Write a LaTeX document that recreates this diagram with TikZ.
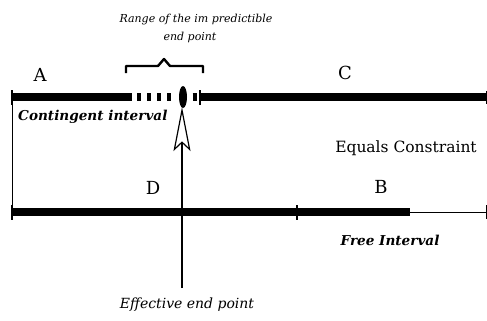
\documentclass[tikz,border=0pt]{standalone}
\usepackage{fontspec}
\setmainfont{DejaVu Serif}
\usetikzlibrary{arrows.meta,shapes.geometric}
\begin{document}
\begin{tikzpicture}[x=1pt,y=-1pt,
  bar/.style={line width=8pt},
  thin/.style={line width=0.9pt},
  tick/.style={line width=2.5pt},
  letter/.style={font=\fontsize{18}{20}\selectfont, inner sep=0pt},
  ital/.style={font=\fontsize{11}{13}\selectfont\itshape, inner sep=0pt},
  bital/.style={font=\fontsize{13.6}{15}\selectfont\bfseries\itshape, inner sep=0pt}]
\useasboundingbox (0,0) rectangle (487,321);
% top interval
\coordinate (tl) at (12,97);
\coordinate (ts) at (132,97);
\coordinate (tr) at (486,97);
\coordinate (tk) at (200,97);
\draw[bar] (tl) -- (ts);
\foreach \x in {137,147,157,167,192.5}
  \draw[bar] (\x,97) -- ++(4,0);
\draw[bar] (tk) -- (tr);
\draw[tick] (12,90) -- (12,105);
\draw[tick] (200,90) -- (200,105);
\draw[thin] (486,91) -- (486,104);
\node[fill=black, ellipse, minimum width=8pt, minimum height=22pt, inner sep=0pt] (ell) at (183,97) {};
% bottom interval
\coordinate (bl) at (12,212);
\coordinate (bm) at (297,212);
\coordinate (bt) at (410,212);
\coordinate (br) at (486,212);
\draw[bar] (bl) -- (bt);
\draw[thin] (bt) -- (br);
\draw[tick] (12,205) -- (12,220);
\draw[tick] (297,205) -- (297,220);
\draw[thin] (486,205) -- (486,219);
% equals constraint vertical
\draw[thin] (tl) -- (bl);
% bracket
\draw[line width=2.4pt, line join=round] (126,73) -- (126,66) -- (158,66) -- (164,59) -- (170,66) -- (203,66) -- (203,73);
% arrow
\coordinate (ab) at (182,288);
\coordinate (at) at (182,107);
\draw[line width=1.2pt, -{Stealth[open, length=44pt, width=17pt, inset=8pt, line width=1.2pt]}] (ab) -- (at);
% labels
\node[letter] (A) at (40,75) {A};
\node[letter] (C) at (345,73) {C};
\node[letter] (D) at (153,188) {D};
\node[letter] (B) at (381,187) {B};
\node[font=\fontsize{15.5}{17}\selectfont, inner sep=0pt] (eq) at (406,148) {Equals Constraint};
\node[bital, anchor=west] (ci) at (18,117) {Contingent interval};
\node[bital] (fi) at (390,240) {Free Interval};
\node[ital] (r1) at (196,20) {Range of the im predictible};
\node[ital] (r2) at (190,37) {end point};
\node[font=\fontsize{14}{16}\selectfont\itshape, inner sep=0pt] (ef) at (187,305) {Effective end point};
\end{tikzpicture}
\end{document}
